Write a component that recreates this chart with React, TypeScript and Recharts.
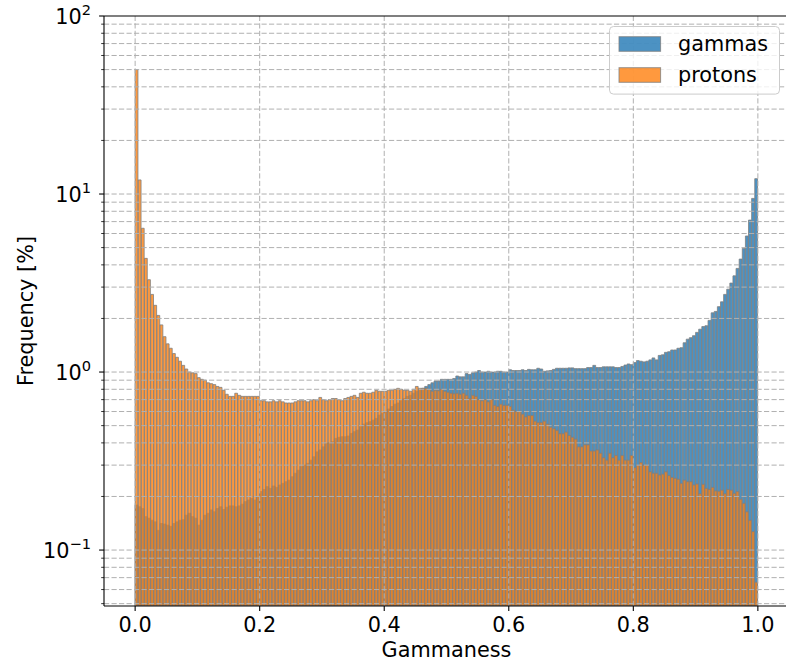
import React from 'react';
import { ComposedChart, Bar, XAxis, YAxis, ReferenceLine, Legend } from 'recharts';

// 200 bins of width 0.005 over [0, 1], values in percent
const BIN_WIDTH = 0.005;

const GAMMAS = [
  0.179, 0.175, 0.171, 0.154, 0.151, 0.147, 0.144, 0.129, 0.141, 0.140,
  0.138, 0.136, 0.141, 0.144, 0.147, 0.148, 0.157, 0.161, 0.154, 0.151,
  0.138, 0.147, 0.157, 0.161, 0.168, 0.164, 0.171, 0.175, 0.169, 0.174,
  0.177, 0.177, 0.175, 0.177, 0.181, 0.187, 0.191, 0.195, 0.191, 0.199,
  0.213, 0.219, 0.227, 0.222, 0.229, 0.225, 0.232, 0.237, 0.242, 0.247,
  0.258, 0.270, 0.281, 0.294, 0.300, 0.307, 0.320, 0.334, 0.356, 0.365,
  0.380, 0.397, 0.400, 0.406, 0.424, 0.430, 0.433, 0.433, 0.437, 0.452,
  0.462, 0.472, 0.493, 0.510, 0.519, 0.526, 0.537, 0.549, 0.573, 0.585,
  0.598, 0.62, 0.64, 0.66, 0.67, 0.69, 0.71, 0.73, 0.74, 0.76,
  0.78, 0.79, 0.81, 0.83, 0.85, 0.87, 0.89, 0.89, 0.91, 0.91,
  0.91, 0.91, 0.92, 0.95, 0.94, 0.94, 0.98, 0.97, 0.99, 1.00,
  1.02, 1.00, 1.00, 1.01, 1.00, 1.00, 1.01, 1.01, 1.00, 1.00,
  1.03, 1.02, 1.02, 1.02, 1.03, 1.02, 1.035, 1.03, 1.03, 1.05,
  1.04, 1.01, 1.015, 1.02, 1.035, 1.05, 1.05, 1.05, 1.05, 1.055,
  1.055, 1.045, 1.045, 1.045, 1.045, 1.06, 1.06, 1.09, 1.06, 1.06,
  1.07, 1.07, 1.07, 1.07, 1.06, 1.06, 1.075, 1.095, 1.11, 1.10,
  1.13, 1.16, 1.15, 1.14, 1.15, 1.17, 1.20, 1.17, 1.24, 1.25,
  1.29, 1.30, 1.33, 1.33, 1.36, 1.37, 1.46, 1.53, 1.56, 1.60,
  1.67, 1.74, 1.80, 1.82, 1.95, 2.15, 2.19, 2.33, 2.48, 2.73,
  2.92, 3.16, 3.47, 3.82, 4.31, 4.95, 5.81, 7.14, 9.45, 12.2,
];

const PROTONS = [
  50.0, 12.0, 6.42, 4.35, 3.30, 2.73, 2.37, 2.08, 1.84, 1.58,
  1.44, 1.36, 1.27, 1.21, 1.15, 1.09, 1.04, 1.00, 0.99, 0.98,
  0.93, 0.91, 0.90, 0.87, 0.86, 0.85, 0.83, 0.82, 0.79, 0.75,
  0.73, 0.73, 0.76, 0.74, 0.73, 0.73, 0.73, 0.73, 0.73, 0.73,
  0.69, 0.69, 0.68, 0.68, 0.69, 0.68, 0.69, 0.68, 0.67, 0.67,
  0.67, 0.68, 0.69, 0.69, 0.69, 0.68, 0.69, 0.70, 0.69, 0.72,
  0.70, 0.69, 0.70, 0.71, 0.71, 0.70, 0.69, 0.71, 0.72, 0.73,
  0.74, 0.72, 0.76, 0.77, 0.76, 0.76, 0.77, 0.79, 0.78, 0.78,
  0.78, 0.79, 0.79, 0.80, 0.81, 0.80, 0.79, 0.79, 0.78, 0.80,
  0.83, 0.81, 0.81, 0.81, 0.80, 0.78, 0.79, 0.785, 0.80, 0.78,
  0.77, 0.76, 0.755, 0.76, 0.75, 0.76, 0.74, 0.71, 0.74, 0.73,
  0.70, 0.69, 0.70, 0.68, 0.70, 0.65, 0.64, 0.66, 0.65, 0.65,
  0.64, 0.61, 0.60, 0.60, 0.58, 0.56, 0.57, 0.57, 0.53, 0.52,
  0.52, 0.53, 0.51, 0.49, 0.48, 0.47, 0.45, 0.45, 0.46, 0.44,
  0.43, 0.42, 0.38, 0.38, 0.39, 0.39, 0.36, 0.36, 0.365, 0.35,
  0.33, 0.32, 0.35, 0.33, 0.34, 0.32, 0.34, 0.32, 0.32, 0.34,
  0.29, 0.30, 0.31, 0.30, 0.30, 0.275, 0.27, 0.27, 0.264, 0.267,
  0.275, 0.262, 0.256, 0.253, 0.25, 0.237, 0.247, 0.242, 0.242, 0.232,
  0.235, 0.207, 0.234, 0.222, 0.219, 0.225, 0.215, 0.214, 0.217, 0.207,
  0.219, 0.217, 0.208, 0.213, 0.193, 0.183, 0.164, 0.147, 0.127, 0.066,
];

const X_TICKS = [0, 0.2, 0.4, 0.6, 0.8, 1.0];
const Y_TICKS = [
  0.05, 0.06, 0.07, 0.08, 0.09,
  0.1, 0.2, 0.3, 0.4, 0.5, 0.6, 0.7, 0.8, 0.9,
  1, 2, 3, 4, 5, 6, 7, 8, 9,
  10, 20, 30, 40, 50, 60, 70, 80, 90,
  100,
];

const SERIES = [
  { key: 'gammas', name: 'gammas', color: '#1f77b4' },
  { key: 'protons', name: 'protons', color: '#ff7f0e' },
];

const rows = GAMMAS.map((g, i) => ({
  x: (i + 0.5) * BIN_WIDTH,
  gammas: g,
  protons: PROTONS[i],
}));

const WIDTH = 800;
const HEIGHT = 671;
const MARGIN = { top: 16, right: 11, bottom: 0, left: 0 };
const Y_AXIS_W = 104;
const X_AXIS_H = 65;
const X_DOMAIN: [number, number] = [-0.05, 1.05];
const Y_DOMAIN: [number, number] = [0.0485, 100];
const BAR_SIZE = ((WIDTH - MARGIN.right - Y_AXIS_W) * BIN_WIDTH) / (X_DOMAIN[1] - X_DOMAIN[0]);

const FONT = '"DejaVu Sans", sans-serif';
const FS = 20.8;
const EDGE = '#808080';
const GRID = '#b0b0b0';

const isDecade = (v: number) => Math.abs(Math.log10(v) - Math.round(Math.log10(v))) < 1e-6;

const YTick = ({ x, y, payload }: any) => {
  const v = payload.value;
  const major = isDecade(v);
  const exp = Math.round(Math.log10(v));
  return (
    <g>
      <line x1={x - (major ? 4.9 : 2.8)} x2={x} y1={y} y2={y} stroke="#000" strokeWidth={major ? 1.1 : 0.8} />
      {major && (
        <text x={x - 13} y={y + 7.6} textAnchor="end" fontFamily={FONT} fontSize={FS} fill="#000">
          10
          <tspan dy={-9} fontSize={14.6}>{exp < 0 ? `\u2212${-exp}` : `${exp}`}</tspan>
        </text>
      )}
    </g>
  );
};

const XTick = ({ x, y, payload }: any) => (
  <g>
    <line x1={x} x2={x} y1={y} y2={y + 4.9} stroke="#000" strokeWidth={1.1} />
    <text x={x} y={y + 25.6} textAnchor="middle" fontFamily={FONT} fontSize={FS} fill="#000">
      {Number(payload.value).toFixed(1)}
    </text>
  </g>
);

const XLabel = ({ viewBox }: any) => (
  <text x={viewBox.x + viewBox.width / 2} y={viewBox.y + 51} textAnchor="middle" fontFamily={FONT} fontSize={FS} fill="#000">
    Gammaness
  </text>
);

const YLabel = ({ viewBox }: any) => (
  <text
    transform={`translate(32.5, ${viewBox.y + viewBox.height / 2}) rotate(-90)`}
    textAnchor="middle"
    fontFamily={FONT}
    fontSize={FS}
    fill="#000"
  >
    Frequency [%]
  </text>
);

const LegendBox = () => (
  <svg width={172} height={70} style={{ display: 'block' }}>
    <rect x={0.5} y={0.5} width={170} height={67.6} rx={4} fill="#fff" fillOpacity={0.8} stroke="#cccccc" strokeWidth={1} />
    {SERIES.map((s, i) => (
      <g key={s.key}>
        <rect
          x={10}
          y={10.7 + i * 31}
          width={41.6}
          height={14.6}
          fill={s.color}
          fillOpacity={0.8}
          stroke={EDGE}
          strokeOpacity={0.8}
        />
        <text x={69} y={25 + i * 31} fontFamily={FONT} fontSize={FS} fill="#000">
          {s.name}
        </text>
      </g>
    ))}
  </svg>
);

export default function App() {
  return (
    <div style={{ position: 'fixed', left: 0, top: 0, width: 786, height: 671, overflow: 'hidden', background: '#fff' }}>
      <ComposedChart width={WIDTH} height={HEIGHT} data={rows} margin={MARGIN}>
        <XAxis
          dataKey="x"
          type="number"
          domain={X_DOMAIN}
          allowDataOverflow
          ticks={X_TICKS}
          interval={0}
          height={X_AXIS_H}
          tickSize={0}
          tickMargin={0}
          tickLine={false}
          tick={<XTick />}
          axisLine={{ stroke: '#000', strokeWidth: 1.1 }}
          label={<XLabel />}
        />
        <XAxis
          xAxisId="top"
          dataKey="x"
          type="number"
          orientation="top"
          domain={X_DOMAIN}
          allowDataOverflow
          height={0}
          tick={false}
          tickLine={false}
          axisLine={false}
        />
        <YAxis
          type="number"
          scale="log"
          domain={Y_DOMAIN}
          allowDataOverflow
          ticks={Y_TICKS}
          interval={0}
          width={Y_AXIS_W}
          tickSize={0}
          tickMargin={0}
          tickLine={false}
          tick={<YTick />}
          axisLine={{ stroke: '#000', strokeWidth: 1.1 }}
          label={<YLabel />}
        />
        <Bar
          xAxisId="top"
          dataKey="gammas"
          name="gammas"
          barSize={BAR_SIZE}
          fill={SERIES[0].color}
          fillOpacity={0.8}
          stroke={EDGE}
          strokeOpacity={0.8}
          strokeWidth={1}
          isAnimationActive={false}
        />
        <Bar
          dataKey="protons"
          name="protons"
          barSize={BAR_SIZE}
          fill={SERIES[1].color}
          fillOpacity={0.8}
          stroke={EDGE}
          strokeOpacity={0.8}
          strokeWidth={1}
          isAnimationActive={false}
        />
        {Y_TICKS.filter((v) => v < Y_DOMAIN[1]).map((v) => (
          <ReferenceLine key={`h${v}`} y={v} stroke={GRID} strokeWidth={1} strokeDasharray="5.2 2.3" />
        ))}
        {X_TICKS.map((v) => (
          <ReferenceLine key={`v${v}`} x={v} stroke={GRID} strokeWidth={1} strokeDasharray="5.2 2.3" />
        ))}
        {/* top spine */}
        <ReferenceLine y={Y_DOMAIN[1]} stroke="#000" strokeWidth={1.1} />
        <Legend
          layout="horizontal"
          verticalAlign="middle"
          align="center"
          content={<LegendBox />}
          wrapperStyle={{ left: 609, top: 26, width: 172, height: 70 }}
        />
      </ComposedChart>
    </div>
  );
}
